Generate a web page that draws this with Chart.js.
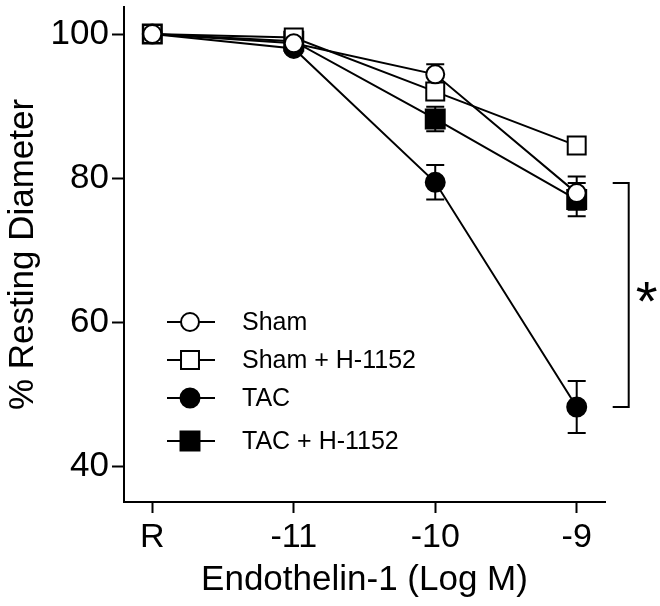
<!DOCTYPE html>
<html>
<head>
<meta charset="utf-8">
<script src="https://cdn.jsdelivr.net/npm/chart.js@4/dist/chart.umd.min.js"></script>
<style>
  html, body { margin: 0; padding: 0; background: #fff; }
  #wrap { width: 660px; height: 606px; position: relative; }
</style>
</head>
<body>
<div id="wrap"><canvas id="c" width="660" height="606"></canvas></div>
<script>
// ---- data ----
const xLabels = ['R', '-11', '-10', '-9'];
const xPositions = [0, 1, 2, 3];
const yTicks = [40, 60, 80, 100];

const seriesNames = ['Sham', 'Sham + H-1152', 'TAC', 'TAC + H-1152'];
const sham      = [100, 98.7, 94.4, 77.9];
const shamErr   = [0, 0.6, 1.4, 2.3];
const shamH     = [100, 99.5, 92.0, 84.5];
const shamHErr  = [0, 0.8, 0.8, 0.8];
const tac       = [100, 98.0, 79.4, 48.2];
const tacErr    = [0, 0.5, 2.4, 3.6];
const tacH      = [100, 99.0, 88.2, 77.0];
const tacHErr   = [0, 0.6, 1.7, 2.3];

// significance bracket (values in % resting diameter)
const bracketTop = 79.3;
const bracketBottom = 48.2;
const bracketLabel = '*';

const FONT = "'Liberation Sans', Arial, Helvetica, sans-serif";

function pts(vals) { return vals.map((v, i) => ({ x: xPositions[i], y: v })); }

const styles = [
  { pointStyle: 'circle', radius: 9,    fill: '#ffffff' },
  { pointStyle: 'rect',   radius: 12.7, fill: '#ffffff' },
  { pointStyle: 'circle', radius: 9.5,  fill: '#000000' },
  { pointStyle: 'rect',   radius: 13.4, fill: '#000000' }
];
const seriesVals = [sham, shamH, tac, tacH];
const seriesErrs = [shamErr, shamHErr, tacErr, tacHErr];

const datasets = seriesVals.map((vals, i) => ({
  label: seriesNames[i],
  data: pts(vals),
  errors: seriesErrs[i],
  borderColor: '#000',
  borderWidth: 2,
  pointStyle: styles[i].pointStyle,
  pointRadius: styles[i].radius,
  pointHoverRadius: styles[i].radius,
  pointBackgroundColor: styles[i].fill,
  pointBorderColor: '#000',
  pointBorderWidth: 2,
  tension: 0,
  fill: false,
  clip: false
}));

function drawMarker(ctx, style, x, y) {
  ctx.save();
  ctx.fillStyle = style.fill;
  ctx.strokeStyle = '#000';
  ctx.lineWidth = 2;
  ctx.beginPath();
  if (style.pointStyle === 'circle') {
    ctx.arc(x, y, style.radius, 0, Math.PI * 2);
  } else {
    const s = style.radius * Math.SQRT1_2;
    ctx.rect(x - s, y - s, 2 * s, 2 * s);
  }
  ctx.fill();
  ctx.stroke();
  ctx.restore();
}

const errorBars = {
  id: 'errorBars',
  beforeDatasetsDraw(chart) {
    const ctx = chart.ctx;
    const xs = chart.scales.x, ys = chart.scales.y;
    ctx.save();
    ctx.strokeStyle = '#000';
    ctx.lineWidth = 2;
    chart.data.datasets.forEach(ds => {
      ds.data.forEach((p, i) => {
        const e = ds.errors[i];
        if (!e) return;
        const px = xs.getPixelForValue(p.x);
        const top = ys.getPixelForValue(p.y + e);
        const bot = ys.getPixelForValue(p.y - e);
        const cw = 9;
        ctx.beginPath();
        ctx.moveTo(px, top); ctx.lineTo(px, bot);
        ctx.moveTo(px - cw, top); ctx.lineTo(px + cw, top);
        ctx.moveTo(px - cw, bot); ctx.lineTo(px + cw, bot);
        ctx.stroke();
      });
    });
    ctx.restore();
  }
};

const extras = {
  id: 'extras',
  afterDraw(chart) {
    const ctx = chart.ctx;
    const xs = chart.scales.x, ys = chart.scales.y;
    // legend
    const legendY = [322, 360, 398, 441];
    const lx0 = 167, lx1 = 215, mx = 190, tx = 242;
    ctx.save();
    chart.data.datasets.forEach((ds, i) => {
      const y = legendY[i];
      ctx.strokeStyle = '#000';
      ctx.lineWidth = 2;
      ctx.beginPath();
      ctx.moveTo(lx0, y); ctx.lineTo(lx1, y);
      ctx.stroke();
      drawMarker(ctx, styles[i], mx, y);
      ctx.fillStyle = '#000';
      ctx.font = '25px ' + FONT;
      ctx.textAlign = 'left';
      ctx.textBaseline = 'middle';
      ctx.fillText(ds.label, tx, y + 1);
    });
    // significance bracket
    const xLast = xs.getPixelForValue(xPositions[xPositions.length - 1]);
    const bx = xLast + 52, bx0 = xLast + 36;
    const yt = ys.getPixelForValue(bracketTop);
    const yb = ys.getPixelForValue(bracketBottom);
    ctx.strokeStyle = '#000';
    ctx.lineWidth = 2;
    ctx.beginPath();
    ctx.moveTo(bx0, yt); ctx.lineTo(bx, yt); ctx.lineTo(bx, yb); ctx.lineTo(bx0, yb);
    ctx.stroke();
    ctx.fillStyle = '#000';
    ctx.font = '56px ' + FONT;
    ctx.textAlign = 'center';
    ctx.textBaseline = 'alphabetic';
    ctx.fillText(bracketLabel, bx + 18, (yt + yb) / 2 + 25);
    ctx.restore();
  }
};

new Chart(document.getElementById('c'), {
  type: 'line',
  data: { datasets },
  plugins: [errorBars, extras],
  options: {
    responsive: false,
    animation: false,
    devicePixelRatio: 1,
    layout: { autoPadding: false, padding: { top: 7, right: 55, left: 0, bottom: 0 } },
    plugins: { legend: { display: false }, tooltip: { enabled: false } },
    scales: {
      x: {
        type: 'linear',
        min: -0.2, max: 3.2,
        afterBuildTicks(scale) { scale.ticks = xPositions.map(v => ({ value: v })); },
        afterFit(scale) { scale.height = 104; scale.paddingLeft = 0; scale.paddingRight = 0; },
        ticks: {
          color: '#000',
          font: { family: FONT, size: 34 },
          padding: 4,
          maxRotation: 0,
          autoSkip: false,
          callback: (v) => xLabels[xPositions.indexOf(v)]
        },
        grid: { drawOnChartArea: false, drawTicks: true, tickLength: 11, tickWidth: 2, tickColor: '#000' },
        border: { display: true, color: '#000', width: 2 },
        title: {
          display: true, text: 'Endothelin-1 (Log M)', color: '#000',
          font: { family: FONT, size: 35 }, padding: { top: 0, bottom: 5 }
        }
      },
      y: {
        type: 'linear',
        min: 35, max: 103.75,
        afterBuildTicks(scale) { scale.ticks = yTicks.map(v => ({ value: v })); },
        afterFit(scale) { scale.width = 124; scale.paddingTop = 0; scale.paddingBottom = 0; },
        ticks: {
          color: '#000',
          font: { family: FONT, size: 35 },
          padding: 3
        },
        grid: { drawOnChartArea: false, drawTicks: true, tickLength: 12, tickWidth: 2, tickColor: '#000' },
        border: { display: true, color: '#000', width: 2 },
        title: {
          display: true, text: '% Resting Diameter', color: '#000',
          font: { family: FONT, size: 35 }, padding: { top: 2, bottom: 0 }
        }
      }
    }
  }
});
</script>
</body>
</html>
